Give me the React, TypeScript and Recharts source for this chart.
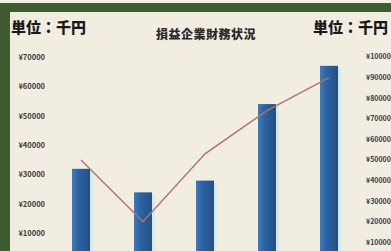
import { ComposedChart, Bar, Line, XAxis, YAxis } from 'recharts'

const categories = ['2016年', '2017年', '2018年', '2019年', '2020年']
const salesValues = [32000, 24000, 28000, 54000, 67000]
const profitValues = [50000, 20000, 53000, 74000, 90000]
const leftTicks = [10000, 20000, 30000, 40000, 50000, 60000, 70000]
const rightTicks = [10000, 20000, 30000, 40000, 50000, 60000, 70000, 80000, 90000, 100000]

const data = categories.map((c, i) => ({ name: c, sales: salesValues[i], profit: profitValues[i] }))

const GREEN = '#3f5c30'
const BG = '#f1eee1'

const fmt = (v: number) => '¥' + v

// bar with the pale halo on its right edge, as in the photo
const GlowBar = (props: any) => {
  const { x, y, width, height } = props
  if (height <= 0) return null
  return (
    <g>
      <rect x={x + width - 1} y={y + 2} width={4} height={height} fill="#d4ebf2" />
      <rect x={x} y={y} width={width} height={height} fill="url(#barGrad)" />
    </g>
  )
}

export default function App() {
  return (
    <div style={{ position: 'fixed', top: 0, left: 0, width: 391, height: 251, overflow: 'hidden', background: BG, fontFamily: '"Noto Sans CJK JP", sans-serif' }}>
      {/* frame */}
      <div style={{ position: 'absolute', top: 3, left: 0, width: 391, height: 9, background: GREEN }} />
      <div style={{ position: 'absolute', top: 3, left: 0, width: 10, height: 248, background: GREEN }} />

      <div style={{ position: 'absolute', top: 16, left: 11, fontSize: 15, fontWeight: 900, color: '#1a1a1a', lineHeight: '22px' }}>単位：千円</div>
      <div style={{ position: 'absolute', top: 16, left: 313, fontSize: 15, fontWeight: 900, color: '#1a1a1a', lineHeight: '22px', whiteSpace: 'nowrap' }}>単位：千円</div>
      <div style={{ position: 'absolute', top: 27, left: 150, width: 112, textAlign: 'center', fontSize: 12, fontWeight: 900, color: '#2a2a2a', lineHeight: '14px', letterSpacing: 0.5 }}>損益企業財務状況</div>

      <div style={{ position: 'absolute', top: 0, left: 0 }}>
        <ComposedChart width={391} height={300} data={data} margin={{ top: 57, right: 0, bottom: 37, left: 0 }} barCategoryGap={0}>
          <defs>
            <linearGradient id="barGrad" x1="0" y1="0" x2="1" y2="0">
              <stop offset="0%" stopColor="#3c7bbd" />
              <stop offset="35%" stopColor="#2c63a3" />
              <stop offset="100%" stopColor="#244f86" />
            </linearGradient>
          </defs>
          <XAxis dataKey="name" hide />
          <YAxis yAxisId="left" orientation="left" width={50} domain={[0, 70000]} ticks={leftTicks}
            tickFormatter={fmt} axisLine={false} tickLine={false} tickMargin={-1}
            tick={{ fontSize: 7.5, fontWeight: 700, fill: '#3a3a3a' }} />
          <YAxis yAxisId="right" orientation="right" width={31} domain={[0, 100000]} ticks={rightTicks}
            tickFormatter={fmt} axisLine={false} tickLine={false} tickMargin={0}
            tick={{ fontSize: 7, fontWeight: 700, fill: '#3a3a3a', textAnchor: 'start' }} />
          <Line yAxisId="right" dataKey="profit" stroke="#b0746a" strokeWidth={1.4} dot={false} isAnimationActive={false} />
          <Bar yAxisId="left" dataKey="sales" barSize={18} shape={<GlowBar />} isAnimationActive={false} />
        </ComposedChart>
      </div>
    </div>
  )
}
